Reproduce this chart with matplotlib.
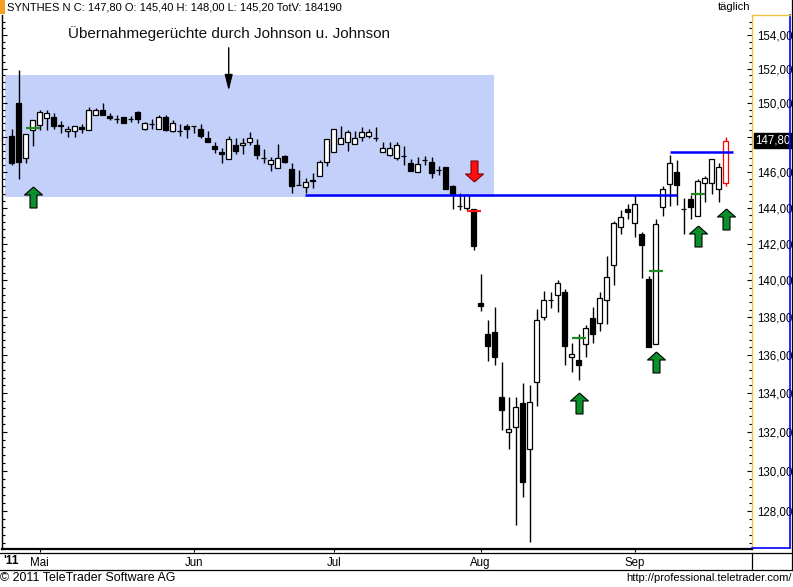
import numpy as np
import matplotlib
matplotlib.use('Agg')
import matplotlib.pyplot as plt
import matplotlib.transforms as mtransforms
from matplotlib.lines import Line2D
from matplotlib.patches import Rectangle
from matplotlib.ticker import FixedLocator, FuncFormatter, NullFormatter

plt.rcParams['font.family'] = ['Liberation Sans', 'DejaVu Sans']

# daily OHLC, 26.04.2011 - 20.09.2011
opens = [148.1, 150.0, 146.8, 148.4, 148.7, 149.1, 149.15, 148.7, 148.35, 148.35,
         148.6, 148.4, 149.3, 149.55, 149.2, 149.05, 149.15, 149.05, 149.45, 148.5,
         148.75, 148.5, 149.15, 148.35, 148.35, 148.65, 148.65, 148.45, 147.95, 147.5,
         147.15, 146.75, 147.55, 147.55, 147.7, 147.55, 146.8, 146.45, 146.25, 146.9,
         146.2, 145.3, 145.15, 145.55, 145.8, 146.6, 147.15, 147.6, 147.75, 147.6,
         148.0, 148.1, 147.95, 147.15, 147.0, 146.8, 146.95, 146.5, 146.0, 146.7,
         146.6, 146.15, 146.3, 145.2, 144.1, 144.0, 143.95, 138.75, 137.1, 137.2,
         133.8, 132.0, 132.25, 133.5, 131.1, 134.6, 138.0, 138.95, 139.2, 139.35,
         135.9, 135.75, 136.55, 137.95, 137.7, 138.95, 140.85, 142.95, 143.95, 143.15,
         142.55, 140.05, 136.6, 144.05, 145.35, 146.0, 143.95, 144.5, 143.55, 145.4,
         145.4, 145.05, 145.4]
highs = [148.5, 151.9, 148.2, 149.0, 149.6, 149.6, 149.4, 148.95, 148.65, 148.65,
         148.75, 149.75, 149.7, 150.0, 149.4, 149.3, 149.15, 149.25, 149.5, 148.9,
         149.05, 149.3, 149.3, 149.0, 148.75, 148.75, 148.65, 148.75, 148.35, 147.7,
         147.4, 148.05, 147.95, 147.95, 148.3, 147.9, 147.3, 146.85, 147.6, 147.0,
         146.5, 146.15, 145.7, 145.95, 146.7, 147.9, 148.5, 148.65, 148.4, 148.35,
         148.6, 148.45, 148.6, 147.75, 147.7, 147.75, 147.5, 146.75, 146.85, 146.95,
         146.85, 146.35, 146.3, 145.3, 144.85, 144.75, 143.95, 140.35, 137.85, 138.55,
         135.65, 133.8, 133.8, 134.5, 134.4, 138.45, 139.4, 139.35, 140.0, 139.55,
         136.65, 137.1, 137.6, 138.55, 139.35, 141.35, 143.25, 143.85, 144.2, 144.7,
         142.65, 140.25, 143.4, 145.2, 147.0, 146.7, 144.55, 144.7, 145.6, 145.8,
         146.75, 146.5, 148.0]
lows = [146.4, 145.6, 146.5, 147.5, 148.4, 148.4, 148.45, 148.25, 148.0, 148.0,
        148.25, 148.4, 149.3, 149.3, 149.0, 148.8, 148.8, 148.9, 148.8, 148.4,
        148.5, 148.5, 148.35, 148.3, 148.1, 147.95, 148.25, 147.95, 147.7, 147.1,
        146.55, 146.75, 147.05, 147.05, 147.55, 146.75, 146.55, 146.05, 146.25, 146.5,
        144.85, 145.3, 144.85, 145.1, 145.8, 146.35, 147.15, 147.6, 147.2, 147.6,
        147.8, 147.95, 147.8, 147.15, 146.9, 146.7, 146.4, 146.1, 146.0, 146.4,
        145.65, 145.85, 145.05, 143.95, 143.9, 143.85, 141.65, 138.35, 135.7, 135.45,
        132.1, 131.1, 127.3, 128.7, 126.45, 133.3, 137.85, 138.5, 138.3, 135.45,
        135.1, 134.7, 135.9, 136.65, 137.25, 137.65, 139.75, 142.55, 143.4, 142.35,
        140.15, 136.4, 136.6, 143.55, 144.1, 144.15, 142.55, 143.4, 143.55, 144.3,
        144.8, 144.3, 145.2]
closes = [146.5, 146.6, 148.2, 149.0, 149.45, 149.4, 148.65, 148.65, 148.45, 148.65,
          148.5, 149.55, 149.55, 149.3, 149.1, 149.05, 148.8, 149.05, 149.05, 148.85,
          148.75, 149.15, 148.4, 148.85, 148.35, 148.5, 148.65, 148.1, 147.7, 147.35,
          147.05, 147.9, 147.2, 147.65, 147.95, 147.0, 146.8, 146.7, 146.8, 146.6,
          145.2, 145.3, 145.45, 145.5, 146.6, 147.9, 148.45, 147.95, 148.3, 147.95,
          148.3, 148.3, 147.95, 147.4, 147.4, 147.55, 146.95, 146.1, 146.45, 146.7,
          145.95, 146.15, 145.05, 144.75, 144.1, 144.7, 141.85, 138.6, 136.45, 135.9,
          133.1, 132.15, 133.25, 129.45, 133.55, 137.85, 138.95, 138.95, 139.85, 136.45,
          136.05, 135.45, 137.45, 137.1, 139.05, 140.2, 143.15, 143.5, 143.75, 144.2,
          141.95, 136.4, 143.1, 145.05, 146.5, 145.3, 143.95, 144.05, 145.5, 145.65,
          146.75, 146.3, 147.8]

month_idx = [4, 26, 46, 67, 89]
month_lbl = ['Mai', 'Jun', 'Jul', 'Aug', 'Sep']

# rumour zone and trend lines
zone_x = [-0.95, 68.9]
zone_y = [144.63, 151.63]
support_x = [41.9, 95.0]
support_y = 144.7
resist_x = [94.0, 103.0]
resist_y = 147.15

# signals
up_idx = [3, 81, 92, 98, 102]
up_pos = [144.6, 133.5, 135.65, 142.45, 143.4]
dn_idx = [66]
dn_pos = [146.05]
trig_idx = [3, 66, 81, 92, 98]
trig_val = [148.55, 143.8, 136.87, 140.5, 144.8]
trig_col = ['#1f8a1f', '#ff1a1a', '#1f8a1f', '#1f8a1f', '#1f8a1f']

title = 'SYNTHES N C: 147,80 O: 145,40 H: 148,00 L: 145,20 TotV: 184190'
note = 'Übernahmegerüchte durch Johnson u. Johnson'
note_idx = 31

W, H = 793, 587
fig = plt.figure(figsize=(W / 100, H / 100), dpi=100)
ax = fig.add_axes([2 / W, 1 - 549 / H, 750 / W, 534 / H])
ax.set_yscale('log')

o = np.array(opens)
c = np.array(closes)
x = np.arange(len(o))
n = len(o)

face = np.where(c >= o, 'white', 'black').astype(object)
edge = np.array(['black'] * n, dtype=object)
wick = ['black'] * n
face[-1] = 'white'
edge[-1] = '#ff0000'
wick[-1] = '#ff0000'

ax.add_patch(Rectangle((zone_x[0], zone_y[0]), zone_x[1] - zone_x[0], zone_y[1] - zone_y[0],
                       facecolor='#c3d0fa', edgecolor='none', zorder=0))

ax.vlines(x, lows, highs, colors=wick, lw=1.0, zorder=2)
ax.bar(x, c - o, bottom=o, width=0.72, color=list(face), edgecolor=list(edge),
       linewidth=0.9, zorder=3)

ax.hlines(support_y, support_x[0], support_x[1], color='#0000ff', lw=1.8, zorder=4)
ax.hlines(resist_y, resist_x[0], resist_x[1], color='#0000ff', lw=1.8, zorder=4)

for i, v, col in zip(trig_idx, trig_val, trig_col):
    ax.hlines(v, i - 1, i + 1, color=col, lw=1.6, zorder=4)

up_arrow = [(0, 10.5), (9, 2.5), (3.5, 2.5), (3.5, -10.5), (-3.5, -10.5), (-3.5, 2.5), (-9, 2.5), (0, 10.5)]
dn_arrow = [(px, -py) for px, py in up_arrow]
ax.plot(up_idx, up_pos, ls='none', marker=up_arrow, markersize=15.1,
        markerfacecolor='#0b8f2b', markeredgecolor='black', markeredgewidth=0.8, zorder=5)
ax.plot(dn_idx, dn_pos, ls='none', marker=dn_arrow, markersize=15.1,
        markerfacecolor='#ff1010', markeredgecolor='#800000', markeredgewidth=0.8, zorder=5)

ax.annotate(note, xy=(note_idx, 150.7), xytext=(note_idx, 154.1), ha='center', va='center',
            fontsize=11, color='#111111',
            arrowprops=dict(arrowstyle='-|>,head_length=0.8,head_width=0.2', color='black',
                            lw=1.0, mutation_scale=12, shrinkA=3, shrinkB=0))

ax.set_xlim(-1.386, 105.76)
ax.set_ylim(126.12, 155.2)

major = np.arange(128, 155, 2)
ax.yaxis.set_major_locator(FixedLocator(major))
ax.yaxis.set_minor_locator(FixedLocator(np.arange(126.4, 155.2, 0.4)))
ax.yaxis.set_major_formatter(FuncFormatter(
    lambda v, p: '' if abs(v - 148) < 0.01 else ('%.2f' % v).replace('.', ',')))
ax.yaxis.set_minor_formatter(NullFormatter())
ax.tick_params(axis='y', which='both', left=True, right=True, labelleft=False,
               labelright=True, direction='in', colors='black', labelsize=8.3, pad=3.4)
ax.tick_params(axis='y', which='major', length=3.6, width=0.8)
ax.tick_params(axis='y', which='minor', length=2.2, width=0.8)

ax.set_xticks(month_idx)
ax.set_xticklabels(month_lbl)
ax.tick_params(axis='x', direction='out', length=2.2, width=0.8, pad=3.3, labelsize=8.3)

ax.spines['top'].set_visible(False)
ax.spines['left'].set_color('black')
ax.spines['left'].set_linewidth(1.0)
ax.spines['right'].set_color('#f0c040')
ax.spines['right'].set_linewidth(1.0)
ax.spines['bottom'].set_linewidth(1.6)

# current price box
tr = mtransforms.blended_transform_factory(ax.transAxes, ax.transData)
ax.text(1.004, closes[-1], ('%.2f' % closes[-1]).replace('.', ','), transform=tr,
        ha='left', va='center', fontsize=8.3, color='white', clip_on=False, zorder=10,
        bbox=dict(boxstyle='square,pad=0.12', facecolor='black', edgecolor='black'))


def fline(x0, y0, x1, y1, **kw):
    fig.add_artist(Line2D([x0 / W, x1 / W], [1 - y0 / H, 1 - y1 / H],
                          transform=fig.transFigure, **kw))


fline(0, 552.5, 793, 552.5, color='black', lw=0.9)
fline(0, 569.5, 793, 569.5, color='black', lw=0.9)
fline(752, 552.5, 752, 569.5, color='black', lw=0.9)
fline(791.5, 0, 791.5, 569.5, color='black', lw=0.9)
fline(790, 15, 790, 548, color='#0000ff', lw=1.2)
fline(752, 548, 790, 548, color='#0000ff', lw=1.2)
fline(752, 15, 790, 15, color='#f0c040', lw=1.0)

fig.add_artist(Rectangle((0, 1 - 14 / H), 5 / W, 14 / H, transform=fig.transFigure,
                         facecolor='#f5a020', edgecolor='none'))
fig.text(7 / W, 1 - 7.5 / H, title, fontsize=8.0, va='center', ha='left')
fig.text(750 / W, 1 - 7.5 / H, 'täglich', fontsize=8.0, va='center', ha='right')
fig.text(3 / W, 1 - 561 / H, "'11", fontsize=8.5, fontweight='bold', va='center', ha='left')
fig.text(0.5 / W, 1 - 578 / H, '© 2011 TeleTrader Software AG', fontsize=8.9, va='center', ha='left')
fig.text(792 / W, 1 - 578 / H, 'http://professional.teletrader.com/', fontsize=8.0,
         va='center', ha='right')

fig.savefig('out.png', dpi=100, facecolor='white')
